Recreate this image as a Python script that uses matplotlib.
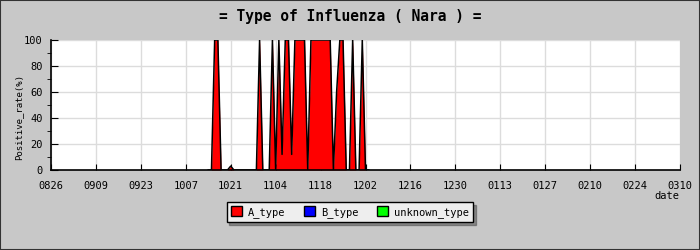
import matplotlib
matplotlib.use("Agg")
import matplotlib.pyplot as plt
from matplotlib.patches import Patch, Rectangle
from matplotlib.ticker import MultipleLocator

plt.rcParams['font.family'] = ['DejaVu Sans Mono']

# 日付ラベル (0826 から 14日ごと)
tick_labels = ["0826", "0909", "0923", "1007", "1021", "1104", "1118",
               "1202", "1216", "1230", "0113", "0127", "0210", "0224", "0310"]
tick_days = [0, 14, 28, 42, 56, 70, 84, 98, 112, 126, 140, 154, 168, 182, 196]

# 0826 からの経過日数 49..99 の A型陽性率(%)
a_days = list(range(49, 100))
a_type = [0, 0, 100, 100, 0, 0, 0, 3, 0, 0,
          0, 0, 0, 0, 0, 0, 100, 0, 0, 0,
          100, 0, 100, 12, 100, 100, 12, 100, 100, 100,
          100, 0, 100, 100, 100, 100, 100, 100, 100, 0,
          60, 100, 100, 0, 0, 100, 0, 0, 100, 0,
          0]
b_type = [0] * len(a_days)
unknown_type = [0] * len(a_days)

fig = plt.figure(figsize=(7, 2.5), dpi=100, facecolor="#c8c8c8")
fig.patches.append(Rectangle((0, 0), 1, 1, transform=fig.transFigure,
                             fill=False, edgecolor="#333333", lw=1.5))
ax = fig.add_axes([51 / 700, 1 - 170 / 250, 629 / 700, 130 / 250])
ax.set_facecolor("white")

top_a = a_type
top_b = [a + b for a, b in zip(a_type, b_type)]
top_u = [t + u for t, u in zip(top_b, unknown_type)]
ax.fill_between(a_days, 0, top_a, color="#ff0000", lw=0)
ax.fill_between(a_days, top_a, top_b, color="#0000ff", lw=0)
ax.fill_between(a_days, top_b, top_u, color="#00ff00", lw=0)
ax.plot(a_days, top_u, color="black", lw=1.1)

ax.set_xlim(0, 196)
ax.set_ylim(0, 100)
ax.set_xticks(tick_days)
ax.set_xticklabels(tick_labels)
ax.yaxis.set_major_locator(MultipleLocator(20))
ax.yaxis.set_minor_locator(MultipleLocator(10))
ax.tick_params(axis="both", direction="in", labelsize=7.5, color="black", pad=8)
ax.tick_params(axis="y", which="major", length=5, pad=6)
ax.tick_params(axis="y", which="minor", length=3)
ax.tick_params(axis="x", length=4)
ax.grid(True, color="#dcdcdc", lw=1)
ax.set_axisbelow(True)
for s in ["top", "right"]:
    ax.spines[s].set_visible(False)
for s in ["left", "bottom"]:
    ax.spines[s].set_linewidth(1.2)

fig.text(19 / 700, 1 - 117 / 250, "Positive_rate(%)", fontsize=6.5, rotation=90,
         ha="center", va="center")
fig.text(667 / 700, 1 - 196 / 250, "date", fontsize=7.5, ha="center", va="center")
fig.text(0.5, 1 - 16 / 250, "= Type of Influenza ( Nara ) =", fontsize=10.5,
         fontweight="bold", ha="center", va="center")

handles = [Patch(facecolor="#ff0000", edgecolor="black", label="A_type"),
           Patch(facecolor="#0000ff", edgecolor="black", label="B_type"),
           Patch(facecolor="#00ff00", edgecolor="black", label="unknown_type")]
leg = fig.legend(handles=handles, loc="center", bbox_to_anchor=(350 / 700, 1 - 212 / 250),
                 ncol=3, fontsize=7.5, frameon=True, fancybox=False, shadow=True,
                 handlelength=1, handleheight=1, handletextpad=0.6, columnspacing=1.8,
                 borderpad=0.45, borderaxespad=0)
leg.get_frame().set_facecolor("#eeeeee")
leg.get_frame().set_edgecolor("black")
leg.get_frame().set_alpha(1)

fig.savefig("out.png", dpi=100, facecolor=fig.get_facecolor())
